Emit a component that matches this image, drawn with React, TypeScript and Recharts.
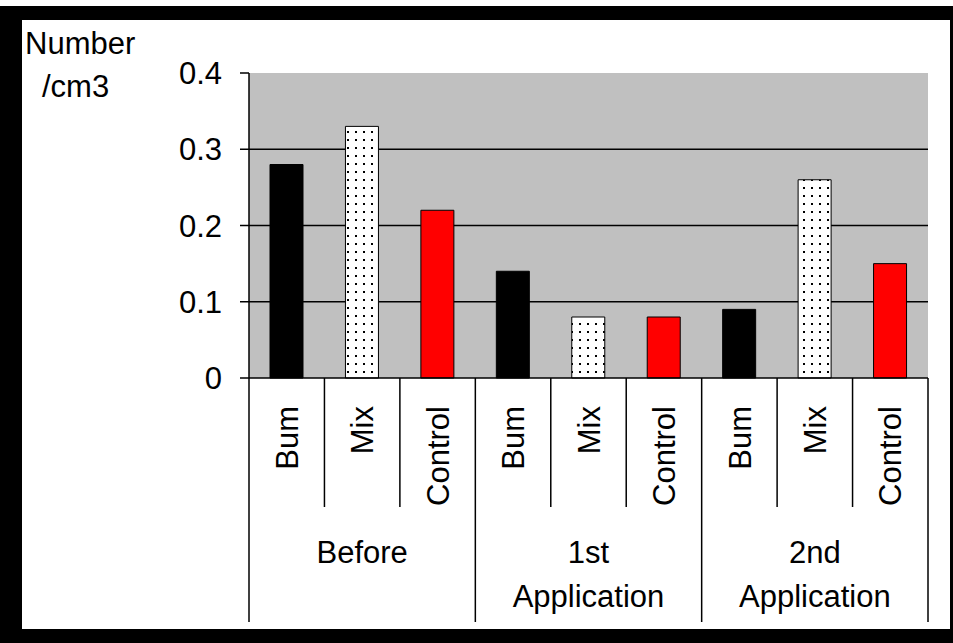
import { BarChart, Bar, XAxis, YAxis, CartesianGrid, Cell } from "recharts";

// values
const treatments = ["Bum", "Mix", "Control", "Bum", "Mix", "Control", "Bum", "Mix", "Control"];
const phases = ["Before", "1st Application", "2nd Application"];
const phaseLines = [["Before"], ["1st", "Application"], ["2nd", "Application"]];
const numbers = [0.28, 0.33, 0.22, 0.14, 0.08, 0.08, 0.09, 0.26, 0.15];
const yTicks = [0, 0.1, 0.2, 0.3, 0.4];

const fills: Record<string, string> = {
  Bum: "#000000",
  Mix: "url(#dots)",
  Control: "#ff0000",
};

const data = treatments.map((t, i) => ({
  name: t,
  phase: phases[Math.floor(i / 3)],
  value: numbers[i],
}));

const FONT = "'Liberation Sans', Arial, sans-serif";
const FS = 31;
const W = 953;
const H = 643;
const PLOT_LEFT = 249;
const PLOT_RIGHT = 928;
const PLOT_TOP = 73;
const PLOT_BOTTOM = 378;
const YAXIS_W = 60;
const XAXIS_H = 244;
const SLOT = (PLOT_RIGHT - PLOT_LEFT) / treatments.length;

function TreatmentTick(props: any) {
  const { x, y, payload } = props;
  const i = payload.index;
  const half = SLOT / 2;
  const groupEnd = i % 3 === 2;
  const ly = y + 28;
  return (
    <g>
      {i === 0 && <line x1={x - half} x2={x - half} y1={y} y2={y + XAXIS_H} stroke="#000" strokeWidth={1.5} />}
      <line x1={x + half} x2={x + half} y1={y} y2={y + (groupEnd ? XAXIS_H : 129)} stroke="#000" strokeWidth={1.5} />
      <text
        x={x}
        y={ly}
        dy="0.36em"
        textAnchor="end"
        transform={`rotate(-90, ${x}, ${ly})`}
        fontSize={FS}
        fontFamily={FONT}
        fill="#000"
      >
        {payload.value}
      </text>
      {i % 3 === 1 &&
        phaseLines[Math.floor(i / 3)].map((s, k) => (
          <text key={k} x={x} y={y + 185 + k * 44} textAnchor="middle" fontSize={FS} fontFamily={FONT} fill="#000">
            {s}
          </text>
        ))}
    </g>
  );
}

const gridLine = (p: any) =>
  p.y1 > PLOT_TOP + 1 && p.y1 < PLOT_BOTTOM - 1 ? (
    <line key={`h${p.index}`} x1={p.x1} x2={p.x2} y1={p.y1} y2={p.y2} stroke="#000" strokeWidth={1.5} />
  ) : (
    <g key={`h${p.index}`} />
  );

export default function App() {
  return (
    <div style={{ position: "absolute", left: 0, top: 0, width: W, height: H, background: "#fff", fontFamily: FONT }}>
      <div style={{ position: "absolute", left: 0, top: 6, width: W, height: H - 6, background: "#000" }} />
      <div style={{ position: "absolute", left: 22, top: 20, width: 928, height: 609, background: "#fff" }} />
      <div style={{ position: "absolute", left: 0, top: 0 }}>
        <BarChart
          width={W}
          height={H}
          data={data}
          margin={{ top: PLOT_TOP, right: W - PLOT_RIGHT, left: PLOT_LEFT - YAXIS_W, bottom: H - PLOT_BOTTOM - XAXIS_H }}
        >
          <defs>
            <pattern id="dots" width={8} height={8} patternUnits="userSpaceOnUse">
              <rect width={8} height={8} fill="#fff" />
              <rect x={3} y={3} width={2} height={2} fill="#000" />
            </pattern>
          </defs>
          <CartesianGrid fill="#c0c0c0" fillOpacity={1} vertical={false} horizontal={gridLine} stroke="#000" />
          <XAxis
            dataKey="name"
            height={XAXIS_H}
            interval={0}
            tickSize={0}
            tickMargin={0}
            tickLine={false}
            axisLine={{ stroke: "#000", strokeWidth: 1.5 }}
            tick={<TreatmentTick />}
          />
          <YAxis
            width={YAXIS_W}
            domain={[0, 0.4]}
            ticks={yTicks}
            interval={0}
            tickSize={9}
            tickMargin={18}
            axisLine={{ stroke: "#000", strokeWidth: 1.5 }}
            tickLine={{ stroke: "#000", strokeWidth: 1.5 }}
            tick={{ fill: "#000", fontSize: FS, fontFamily: FONT }}
            tickFormatter={(v: number) => (v === 0 ? "0" : v.toFixed(1))}
          />
          <Bar dataKey="value" barSize={33} isAnimationActive={false}>
            {data.map((d, i) => (
              <Cell key={i} fill={fills[d.name]} stroke="#000" strokeWidth={1} />
            ))}
          </Bar>
        </BarChart>
      </div>
      <svg width={W} height={H} style={{ position: "absolute", left: 0, top: 0, pointerEvents: "none" }}>
        <text x={25} y={54} fontSize={FS} fontFamily={FONT} fill="#000">Number</text>
        <text x={42} y={97} fontSize={FS} fontFamily={FONT} fill="#000">/cm3</text>
      </svg>
    </div>
  );
}
